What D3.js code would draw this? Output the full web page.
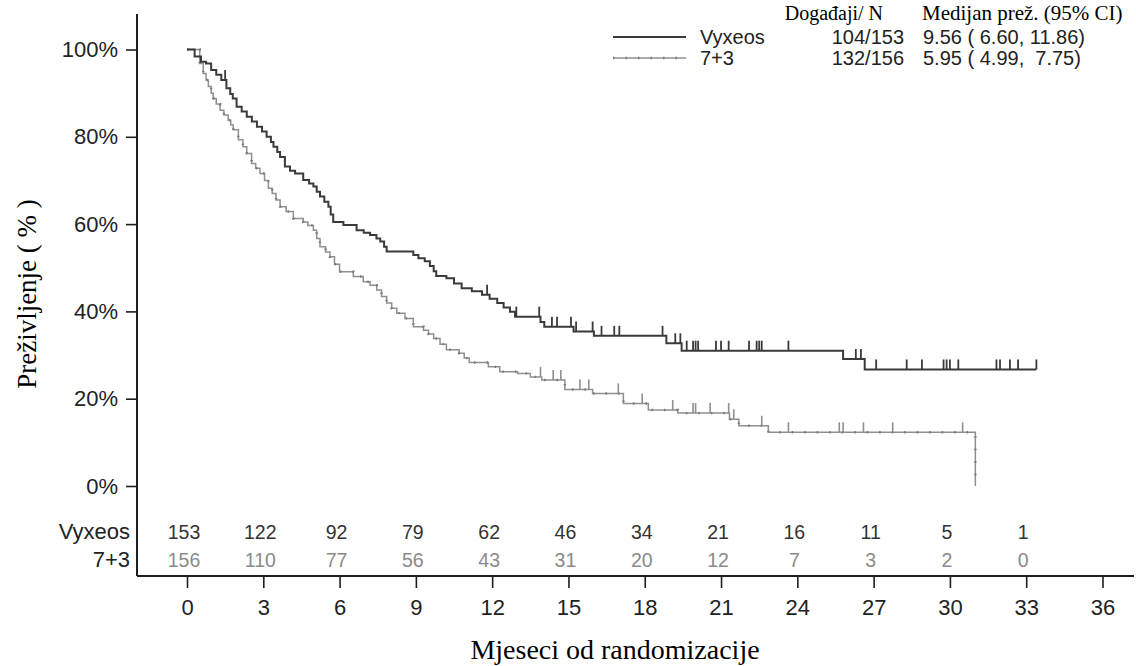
<!DOCTYPE html>
<html>
<head>
<meta charset="utf-8">
<script src="https://cdn.jsdelivr.net/npm/d3@7"></script>
<style>
  body { margin: 0; background: #fff; }
  svg { display: block; }
  .sans { font-family: "Liberation Sans", Arial, sans-serif; }
  .serif { font-family: "Liberation Serif", "Times New Roman", serif; }
</style>
</head>
<body>
<div id="chart"></div>
<script>
"use strict";

// Kaplan-Meier steps (months, survival %)
var vyxTimes = [0, 0.3, 0.55, 0.75, 0.95, 1.15, 1.35, 1.55, 1.7, 1.8, 1.95, 2.15, 2.35, 2.55, 2.75, 2.95,
  3.13, 3.3, 3.4, 3.55, 3.66, 3.85, 4.05, 4.25, 4.57, 4.8, 4.97, 5.1, 5.23, 5.4, 5.56, 5.65, 5.75,
  6.15, 6.67, 6.95, 7.2, 7.45, 7.6, 7.75, 7.85, 8.9, 9.1, 9.35, 9.55, 9.7, 9.8, 10.2, 10.5, 10.8,
  11.2, 11.6, 11.9, 12.2, 12.45, 12.7, 12.9, 13.9, 14.05, 15.2, 16.0, 18.85, 19.45, 25.8, 26.65];
var vyxSurv = [100, 98.4, 97.2, 96.8, 95.3, 94.2, 93, 91.1, 89.8, 88.8, 86.9, 85.8, 84.6, 83.5, 82.3, 81.2,
  80, 78.8, 77.7, 76.5, 75.4, 73.2, 72.2, 71.6, 70.1, 69.3, 68.6, 67.4, 66.3, 65.1, 64, 62.2, 60.5,
  59.8, 58.6, 58.0, 57.5, 56.7, 56, 54.8, 53.7, 52.9, 52.2, 51.5, 50.4, 49.2, 48.1, 47.6, 46.4, 45.3,
  44.6, 43.8, 42.9, 41.9, 40.9, 39.9, 38.8, 37.6, 36.5, 35.4, 34.4, 32.7, 31.0, 29.1, 26.7];
var vyxEnd = 33.4;
var vyxCensor = [1.5, 11.8, 12.95, 13.85, 14.35, 14.55, 15.1, 15.3, 15.95, 16.3, 16.8, 17.0, 18.7, 19.2,
  19.4, 19.65, 19.9, 20.0, 20.1, 20.8, 21.0, 21.3, 22.1, 22.4, 22.5, 22.6, 23.65, 26.3, 26.5, 27.1,
  28.3, 28.9, 29.75, 29.87, 30.0, 30.33, 31.83, 31.97, 32.36, 32.68, 33.4];

var ctlTimes = [0, 0.5, 0.64, 0.75, 0.84, 0.95, 1.03, 1.15, 1.3, 1.45, 1.62, 1.72, 1.82, 2.02, 2.2, 2.35,
  2.54, 2.7, 2.87, 3.05, 3.2, 3.35, 3.5, 3.66, 3.9, 4.18, 4.57, 4.75, 4.97, 5.1, 5.23, 5.45, 5.62,
  5.8, 6.0, 6.54, 6.93, 7.2, 7.46, 7.65, 7.85, 8.05, 8.25, 8.57, 8.9, 9.3, 9.5, 9.7, 9.95, 10.2,
  10.7, 10.9, 11.1, 11.85, 12.3, 13.0, 13.5, 13.95, 14.86, 15.95, 17.16, 18.14, 19.3, 21.33, 21.7,
  22.86, 31.0];
var ctlSurv = [100, 96.8, 94.5, 93, 91.5, 90, 88.8, 87.5, 86.1, 85, 83.8, 82.7, 81.6, 79.3, 77.7, 76.2,
  73.9, 72.8, 71.6, 70, 68.2, 67, 65.5, 64, 62.9, 61.3, 60.5, 59.7, 58.6, 56.7, 54.8, 53.6, 52.5,
  50.8, 49.1, 48, 46.8, 46, 44.9, 43.4, 41.9, 40.7, 39.6, 38.4, 36.5, 35.7, 34.8, 33.8, 32.5, 31.2,
  30.4, 29.3, 28.3, 27.3, 26.2, 25.8, 25.0, 24.3, 22.1, 21.2, 18.9, 17.4, 16.7, 15.3, 13.8,
  12.3, 0];
var ctlCensor = [13.9, 14.4, 14.7, 15.45, 15.8, 16.96, 17.9, 19.1, 19.9, 20.0, 20.57, 21.3, 21.5, 22.6,
  23.65, 25.65, 25.8, 26.6, 27.75, 30.5];

// number at risk
var riskTimes = [0, 3, 6, 9, 12, 15, 18, 21, 24, 27, 30, 33];
var riskVyx = [153, 122, 92, 79, 62, 46, 34, 21, 16, 11, 5, 1];
var riskCtl = [156, 110, 77, 56, 43, 31, 20, 12, 7, 3, 2, 0];

var groupNames = ["Vyxeos", "7+3"];
var groupEvents = ["104/153", "132/156"];
var groupMedian = ["9.56 ( 6.60, 11.86)", "5.95 ( 4.99,  7.75)"];

var xTicks = d3.range(0, 37, 3);
var yTicks = [0, 20, 40, 60, 80, 100];

var width = 1136, height = 666;
var darkCol = "#3a3a3a", lightCol = "#8f8f8f", axisCol = "#1e1e1e";

var svg = d3.select("#chart").append("svg")
    .attr("width", width)
    .attr("height", height);

var x = d3.scaleLinear().domain([0, 36]).range([187, 1102.5]);
var y = d3.scaleLinear().domain([0, 100]).range([486, 49.5]);
var axisX = 137, axisY = 576;

// --- axes ---
var gx = svg.append("g").attr("class", "sans")
    .attr("transform", "translate(0," + axisY + ")");
gx.call(d3.axisBottom(x).tickValues(d3.range(0, 37)).tickSize(6).tickFormat(""));
gx.call(d3.axisBottom(x).tickValues(xTicks).tickSize(12).tickPadding(11));
gx.selectAll(".domain").remove();
gx.selectAll("line").attr("stroke", axisCol).attr("stroke-width", 1.6);
gx.selectAll("text").attr("font-size", 22).attr("fill", "#222")
    .attr("font-family", "Liberation Sans, Arial, sans-serif");

var gy = svg.append("g").attr("class", "sans")
    .attr("transform", "translate(" + axisX + ",0)");
gy.call(d3.axisLeft(y).tickValues([10, 30, 50, 70, 90]).tickSize(6).tickFormat(""));
gy.call(d3.axisLeft(y).tickValues(yTicks).tickSize(11).tickPadding(8)
    .tickFormat(function(d) { return d + "%"; }));
gy.selectAll(".domain").remove();
gy.selectAll("line").attr("stroke", axisCol).attr("stroke-width", 1.6);
gy.selectAll("text").attr("font-size", 22).attr("fill", "#222")
    .attr("font-family", "Liberation Sans, Arial, sans-serif");

svg.append("line")
    .attr("x1", axisX).attr("x2", 1134)
    .attr("y1", axisY).attr("y2", axisY)
    .attr("stroke", axisCol).attr("stroke-width", 2);
svg.append("line")
    .attr("x1", axisX).attr("x2", axisX)
    .attr("y1", 14).attr("y2", axisY)
    .attr("stroke", axisCol).attr("stroke-width", 2);

// axis titles
svg.append("text").attr("class", "serif")
    .attr("x", 615).attr("y", 659)
    .attr("text-anchor", "middle")
    .attr("font-size", 28)
    .text("Mjeseci od randomizacije");

svg.append("text").attr("class", "serif")
    .attr("transform", "translate(36,294) rotate(-90)")
    .attr("text-anchor", "middle")
    .attr("font-size", 27)
    .text("Preživljenje ( % )");

// --- curves ---
function stepData(times, surv, endT) {
    var pts = times.map(function(t, i) { return [t, surv[i]]; });
    if (endT != null) pts.push([endT, surv[surv.length - 1]]);
    return pts;
}

function survAt(times, surv, t) {
    var i = d3.bisectRight(times, t) - 1;
    return surv[Math.max(0, i)];
}

var line = d3.line()
    .x(function(d) { return x(d[0]); })
    .y(function(d) { return y(d[1]); })
    .curve(d3.curveStepAfter);

var ctlData = stepData(ctlTimes, ctlSurv, null);
var vyxData = stepData(vyxTimes, vyxSurv, vyxEnd);

svg.append("path")
    .datum(ctlData)
    .attr("d", line)
    .attr("fill", "none")
    .attr("stroke", lightCol)
    .attr("stroke-width", 1.5);
svg.append("path")
    .datum(ctlData)
    .attr("d", line)
    .attr("fill", "none")
    .attr("stroke", "#7a7a7a")
    .attr("stroke-width", 2.4)
    .attr("stroke-dasharray", "1.5,11");

svg.selectAll("line.cens-ctl")
    .data(ctlCensor)
    .enter().append("line")
    .attr("class", "cens-ctl")
    .attr("x1", function(d) { return x(d); })
    .attr("x2", function(d) { return x(d); })
    .attr("y1", function(d) { return y(survAt(ctlTimes, ctlSurv, d)); })
    .attr("y2", function(d) { return y(survAt(ctlTimes, ctlSurv, d)) - 10; })
    .attr("stroke", lightCol)
    .attr("stroke-width", 1.6);

svg.append("path")
    .datum(vyxData)
    .attr("d", line)
    .attr("fill", "none")
    .attr("stroke", darkCol)
    .attr("stroke-width", 2);

svg.selectAll("line.cens-vyx")
    .data(vyxCensor)
    .enter().append("line")
    .attr("class", "cens-vyx")
    .attr("x1", function(d) { return x(d); })
    .attr("x2", function(d) { return x(d); })
    .attr("y1", function(d) { return y(survAt(vyxTimes, vyxSurv, d)); })
    .attr("y2", function(d) { return y(survAt(vyxTimes, vyxSurv, d)) - 10; })
    .attr("stroke", darkCol)
    .attr("stroke-width", 1.8);

// --- number at risk ---
var riskRows = [
    { name: groupNames[0], vals: riskVyx, col: "#333", y: 539 },
    { name: groupNames[1], vals: riskCtl, col: "#8a8a8a", y: 567 }
];
riskRows.forEach(function(r) {
    svg.append("text").attr("class", "sans")
        .attr("x", 130).attr("y", r.y)
        .attr("text-anchor", "end")
        .attr("font-size", 22)
        .attr("fill", "#222")
        .text(r.name);
    svg.selectAll(null)
        .data(r.vals)
        .enter().append("text")
        .attr("class", "sans")
        .attr("x", function(d, i) { return x(riskTimes[i]) - 3; })
        .attr("y", r.y)
        .attr("text-anchor", "middle")
        .attr("font-size", 19.5)
        .attr("fill", r.col)
        .text(function(d) { return d; });
});

// --- legend ---
var leg = svg.append("g");
leg.append("text").attr("class", "serif")
    .attr("x", 883).attr("y", 20).attr("text-anchor", "end")
    .attr("font-size", 20).text("Događaji/ N");
leg.append("text").attr("class", "serif")
    .attr("x", 922).attr("y", 20)
    .attr("font-size", 21).text("Medijan prež. (95% CI)");

var legRows = [
    { y: 37, col: darkCol, w: 2, dots: false },
    { y: 58, col: lightCol, w: 1.5, dots: true }
];
legRows.forEach(function(r, i) {
    leg.append("line")
        .attr("x1", 613).attr("x2", 686)
        .attr("y1", r.y).attr("y2", r.y)
        .attr("stroke", r.col).attr("stroke-width", r.w);
    if (r.dots) {
        leg.append("line")
            .attr("x1", 613).attr("x2", 686)
            .attr("y1", r.y).attr("y2", r.y)
            .attr("stroke", "#7a7a7a").attr("stroke-width", 2.4)
            .attr("stroke-dasharray", "1.5,11");
    }
    leg.append("text").attr("class", "sans")
        .attr("x", 700).attr("y", r.y + 7)
        .attr("font-size", 20).attr("fill", "#222")
        .text(groupNames[i]);
    leg.append("text").attr("class", "sans")
        .attr("x", 904).attr("y", r.y + 7)
        .attr("text-anchor", "end")
        .attr("font-size", 20).attr("fill", "#222")
        .text(groupEvents[i]);
    leg.append("text").attr("class", "sans")
        .attr("x", 923).attr("y", r.y + 7)
        .attr("font-size", 20).attr("fill", "#222")
        .attr("xml:space", "preserve")
        .style("white-space", "pre")
        .text(groupMedian[i]);
});
</script>
</body>
</html>
